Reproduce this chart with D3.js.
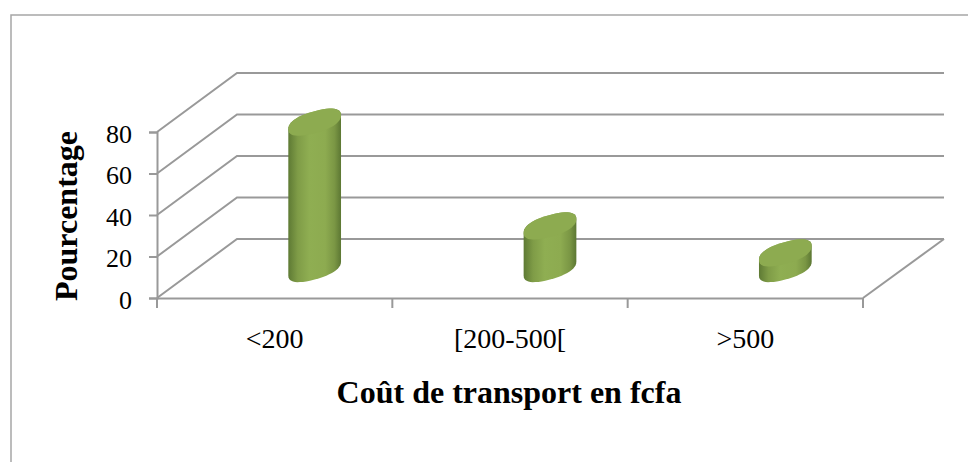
<!DOCTYPE html>
<html>
<head>
<meta charset="utf-8">
<script src="https://cdn.jsdelivr.net/npm/d3@7"></script>
<style>
  html, body { margin: 0; padding: 0; background: #fff; overflow: hidden; }
  text { font-family: "Liberation Serif", serif; fill: #000; }
</style>
</head>
<body>
<div id="chart"></div>
<script>
var categories = ["<200", "[200-500[", ">500"];
var values = [70.5, 20.5, 7.5];
var yTicks = [0, 20, 40, 60, 80];

function init() {
    var w = 968, h = 462;
    var front = { left: 157, right: 863, bottom: 298, top: 132 };
    var depth = { x: 80, y: -59 };
    var grey = "#999999";

    var svg = d3.select("#chart").append("svg")
        .attr("width", w)
        .attr("height", h)
        .attr("viewBox", [0, 0, w, h]);

    // bar shading, dark at both edges
    var grad = svg.append("defs").append("linearGradient")
        .attr("id", "cyl")
        .attr("x1", 0).attr("x2", 1).attr("y1", 0).attr("y2", 0);
    grad.append("stop").attr("offset", "0%").attr("stop-color", "#5e7a34");
    grad.append("stop").attr("offset", "18%").attr("stop-color", "#7f9c47");
    grad.append("stop").attr("offset", "40%").attr("stop-color", "#8fae52");
    grad.append("stop").attr("offset", "70%").attr("stop-color", "#8dab50");
    grad.append("stop").attr("offset", "88%").attr("stop-color", "#7a9644");
    grad.append("stop").attr("offset", "100%").attr("stop-color", "#5c7733");

    // outer frame, runs off the page on the right and bottom
    svg.append("path")
        .attr("d", d3.line()([[11, h], [11, 15], [w, 15]]))
        .attr("fill", "none")
        .attr("stroke", "#a6a6a6")
        .attr("stroke-width", 1.5);

    var xScale = d3.scaleBand().domain(categories).range([front.left, front.right]);
    var yScale = d3.scaleLinear().domain([0, 80]).range([front.bottom, front.top]);

    // walls and floor
    var line = d3.line();
    var walls = svg.append("g")
        .attr("fill", "none")
        .attr("stroke", grey)
        .attr("stroke-width", 2);

    walls.selectAll(".grid")
        .data(yTicks)
        .enter()
        .append("path")
        .attr("class", "grid")
        .attr("d", d => line([
            [front.left, yScale(d)],
            [front.left + depth.x, yScale(d) + depth.y],
            [front.right + depth.x + 1, yScale(d) + depth.y]
        ]));

    walls.append("path")
        .attr("d", line([
            [front.right, front.bottom],
            [front.right + depth.x + 1, front.bottom + depth.y]
        ]));

    // axes
    var xAxis = svg.append("g")
        .attr("transform", `translate(0,${front.bottom})`)
        .call(d3.axisBottom(xScale).tickSize(0));
    var yAxis = svg.append("g")
        .attr("transform", `translate(${front.left},0)`)
        .call(d3.axisLeft(yScale).tickValues(yTicks).tickSize(8).tickPadding(17));

    // band edge ticks, not the centred ones
    xAxis.selectAll(".bandTick")
        .data(xScale.domain().map(d => xScale(d)).concat(front.right))
        .enter()
        .append("line")
        .attr("class", "bandTick")
        .attr("x1", d => d).attr("x2", d => d)
        .attr("y1", 0).attr("y2", 10)
        .attr("stroke", grey)
        .attr("stroke-width", 2);

    [xAxis, yAxis].forEach(a => {
        a.select(".domain").attr("stroke", grey).attr("stroke-width", 2);
        a.selectAll(".tick line").attr("stroke", grey).attr("stroke-width", 2);
        a.selectAll("text").attr("fill", "#000");
    });

    xAxis.selectAll(".tick text")
        .attr("y", 50)
        .attr("dy", 0)
        .style("font-size", "28px");
    yAxis.selectAll(".tick text")
        .attr("dy", "0.4em")
        .style("font-size", "26px");

    // cylinders
    var a = xScale.bandwidth() * 0.112, skew = 7, minor = 11;
    var half = d3.range(0, 25).map(i => i / 24 * Math.PI);

    // slightly squarer than a true ellipse, like the original's rims
    function soft(v) { return Math.sign(v) * Math.pow(Math.abs(v), 0.85); }

    function ringPoint(cx, cy, t) {
        var c = soft(Math.cos(t)), s = soft(Math.sin(t));
        return [cx + a * c, cy - skew * c + minor * s];
    }

    var bars = svg.selectAll(".bar")
        .data(categories.map((c, i) => ({ c: c, v: values[i] })))
        .enter()
        .append("g")
        .attr("class", "bar");

    function cx(d) { return xScale(d.c) + xScale.bandwidth() / 2 + depth.x / 2; }
    function baseY() { return yScale(0) + depth.y / 2; }
    function topY(d) { return yScale(d.v) + depth.y / 2; }

    bars.append("path")
        .attr("fill", "url(#cyl)")
        .attr("d", d => {
            var lower = half.map(t => ringPoint(cx(d), baseY(), t));
            var upper = half.map(t => ringPoint(cx(d), topY(d), t + Math.PI));
            // lower rim goes right to left, then the far rim of the top closes it
            return line(lower.concat(upper)) + "Z";
        });

    bars.append("path")
        .attr("fill", "#8dab50")
        .attr("d", d => line(d3.range(0, 49).map(i =>
            ringPoint(cx(d), topY(d), i / 48 * 2 * Math.PI))) + "Z");

    // axis titles
    svg.append("text")
        .attr("x", 509)
        .attr("y", 403)
        .attr("text-anchor", "middle")
        .style("font-size", "32px")
        .style("font-weight", "bold")
        .text("Coût de transport en fcfa");

    svg.append("text")
        .attr("transform", "translate(77,216) rotate(-90)")
        .attr("text-anchor", "middle")
        .style("font-size", "32px")
        .style("font-weight", "bold")
        .text("Pourcentage");
}

window.onload = init;
</script>
</body>
</html>
